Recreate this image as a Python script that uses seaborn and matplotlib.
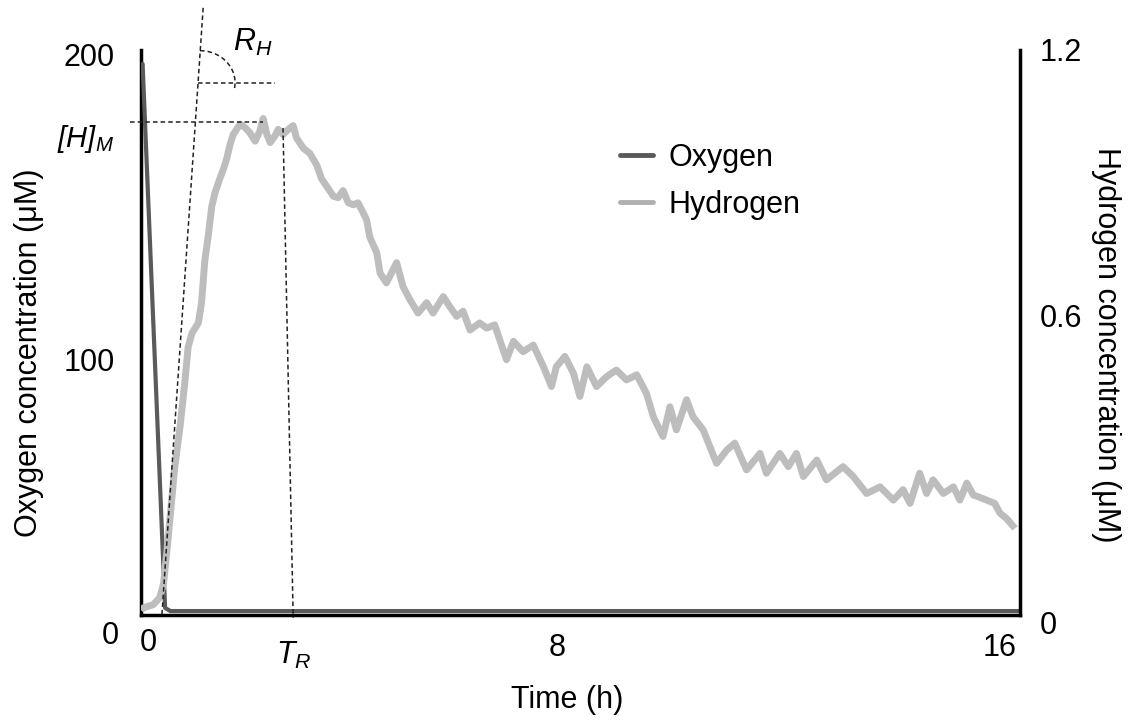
import matplotlib
matplotlib.use("Agg")
import matplotlib.pyplot as plt
import seaborn as sns
import pandas as pd
from matplotlib.patches import Arc
from matplotlib.lines import Line2D
from matplotlib.transforms import ScaledTranslation

# Oxygen trace (uM, left axis)
oxygen_time = [0.0, 0.03, 0.45, 0.55, 16.4]
oxygen_conc = [194, 195, 2.5, 1.4, 1.4]

# Hydrogen trace (uM, right axis)
hydrogen_time = [0.0, 0.04, 0.23, 0.35, 0.42, 0.48, 0.54, 0.63, 0.73, 0.82, 0.88, 0.95,
                 1.07, 1.13, 1.19, 1.26, 1.32, 1.38, 1.47, 1.54, 1.60, 1.66, 1.72, 1.85,
                 1.94, 2.03, 2.13, 2.22, 2.28, 2.35, 2.41, 2.50, 2.56, 2.65, 2.75, 2.84,
                 2.90, 3.03, 3.15, 3.28, 3.37, 3.46, 3.59, 3.68, 3.77, 3.87, 3.96, 4.05,
                 4.15, 4.21, 4.27, 4.40, 4.46, 4.58, 4.77, 4.89, 5.02, 5.17, 5.33, 5.45,
                 5.64, 5.76, 5.89, 6.01, 6.14, 6.32, 6.45, 6.60, 6.82, 6.95, 7.13, 7.32,
                 7.51, 7.66, 7.75, 7.91, 8.07, 8.19, 8.32, 8.50, 8.69, 8.87, 9.06, 9.25,
                 9.43, 9.56, 9.74, 9.87, 9.99, 10.18, 10.30, 10.49, 10.74, 10.93, 11.08,
                 11.30, 11.55, 11.67, 11.92, 12.08, 12.23, 12.36, 12.61, 12.79, 13.10,
                 13.29, 13.54, 13.79, 14.04, 14.22, 14.35, 14.53, 14.66, 14.78, 14.97,
                 15.16, 15.28, 15.41, 15.53, 15.78, 15.93, 16.03, 16.15, 16.31]
hydrogen_conc = [0.010, 0.015, 0.022, 0.037, 0.066, 0.132, 0.204, 0.314, 0.401, 0.496, 0.569, 0.598,
                 0.620, 0.663, 0.751, 0.809, 0.867, 0.896, 0.926, 0.947, 0.969, 0.998, 1.020, 1.042,
                 1.035, 1.024, 1.006, 1.028, 1.054, 1.020, 1.003, 1.017, 1.031, 1.020, 1.031, 1.039,
                 1.013, 0.991, 0.980, 0.955, 0.926, 0.911, 0.889, 0.886, 0.901, 0.875, 0.871, 0.875,
                 0.853, 0.839, 0.802, 0.769, 0.726, 0.705, 0.748, 0.697, 0.669, 0.641, 0.663, 0.641,
                 0.676, 0.655, 0.634, 0.645, 0.605, 0.620, 0.609, 0.616, 0.542, 0.581, 0.559, 0.573,
                 0.527, 0.485, 0.527, 0.549, 0.513, 0.464, 0.527, 0.485, 0.506, 0.520, 0.499, 0.510,
                 0.471, 0.421, 0.379, 0.442, 0.393, 0.457, 0.421, 0.393, 0.322, 0.350, 0.365,
                 0.308, 0.343, 0.301, 0.343, 0.315, 0.343, 0.294, 0.329, 0.287, 0.315,
                 0.294, 0.258, 0.272, 0.244, 0.266, 0.237, 0.301, 0.258, 0.287, 0.258,
                 0.272, 0.244, 0.280, 0.255, 0.244, 0.237, 0.216, 0.205, 0.184]

# annotation values
h_max = 1.047       # [H]_M
t_r = 2.75          # T_R

oxy_df = pd.DataFrame({"Time": oxygen_time, "Oxygen": oxygen_conc})
hyd_df = pd.DataFrame({"Time": hydrogen_time, "Hydrogen": hydrogen_conc})

sns.set_theme(style="white")
plt.rcParams["font.family"] = ["Liberation Sans", "DejaVu Sans"]
# all math labels here are italic, brackets included
plt.rcParams["mathtext.fontset"] = "custom"
plt.rcParams["mathtext.it"] = "Liberation Sans:italic"
plt.rcParams["mathtext.rm"] = "Liberation Sans:italic"
plt.rcParams["text.color"] = "black"
plt.rcParams["axes.labelcolor"] = "black"

oxy_color = "#5a5a5a"
hyd_color = "#bdbdbd"
fs = 22

fig = plt.figure(figsize=(11.37, 7.21), dpi=100)
ax = fig.add_axes([0.124, 0.147, 0.773, 0.784])
ax2 = ax.twinx()

sns.lineplot(data=oxy_df, x="Time", y="Oxygen", ax=ax, color=oxy_color, linewidth=3, zorder=3)
sns.lineplot(data=hyd_df, x="Time", y="Hydrogen", ax=ax2, color=hyd_color, linewidth=5,
             solid_capstyle="butt", zorder=2)

ax.set_xlim(0, 16.4)
ax.set_ylim(0, 200)
ax2.set_ylim(0, 1.2)

for a in (ax, ax2):
    a.spines["top"].set_visible(False)
    for s in a.spines.values():
        s.set_linewidth(2.5)
        s.set_color("black")
ax2.spines["left"].set_visible(False)
ax2.spines["bottom"].set_visible(False)
ax.spines["right"].set_visible(False)

ax.set_xticks([0, 8, 16])
ax.set_xticklabels(["0", "8", "16"])
ax.set_yticks([0, 100, 200])
ax.set_yticklabels(["0", "100", "200"])
ax2.set_yticks([0, 0.6, 1.2])
ax2.set_yticklabels(["0", "0.6", "1.2"])
ax.tick_params(axis="x", length=0, pad=13, labelsize=fs, colors="black")
ax.tick_params(axis="y", length=0, pad=19, labelsize=fs, colors="black")
ax2.tick_params(axis="y", length=0, pad=14, labelsize=fs, colors="black")

ax.set_xlabel("Time (h)", fontsize=fs)
ax.set_ylabel("Oxygen concentration (μM)", fontsize=fs)
ax2.set_ylabel("Hydrogen concentration (μM)", fontsize=fs, rotation=270)
ax.xaxis.label.set_va("center")
ax.yaxis.label.set_va("center")
ax2.yaxis.label.set_va("center")
ax.xaxis.set_label_coords(0.485, -0.150)
ax.yaxis.set_label_coords(-0.127, 0.464)
ax2.yaxis.set_label_coords(1.098, 0.478)


def shift(lbl, dx, dy):
    lbl.set_transform(lbl.get_transform() + ScaledTranslation(dx / 100, dy / 100, fig.dpi_scale_trans))


for lbl, (dx, dy) in zip(ax.get_xticklabels(), [(7, 5), (-13, 0), (1, 0)]):
    shift(lbl, dx, dy)
for lbl, (dx, dy) in zip(ax.get_yticklabels(), [(4, -17), (0, -27), (0, -5)]):
    shift(lbl, dx, dy)
for lbl, (dx, dy) in zip(ax2.get_yticklabels(), [(0, -7), (0, 17), (0, 0)]):
    shift(lbl, dx, dy)

# dashed construction lines (hydrogen units)
dash = dict(color="#222222", linewidth=1.1, linestyle=(0, (3, 2)), clip_on=False, zorder=5)
ax2.plot([-0.21, 2.28], [h_max, h_max], **dash)
ax2.plot([2.65, 2.84], [1.034, -0.006], **dash)
ax2.plot([1.16, 0.39], [1.289, 0.0], **dash)
ax2.plot([1.06, 2.50], [1.130, 1.130], **dash)
# angles given in data space (stretched by Arc); about -8..95 deg on screen
ax2.add_patch(Arc((1.10, 1.13), 1.31, 0.136, theta1=-1, theta2=110, color="#222222",
                  linewidth=1.1, linestyle=(0, (3, 2)), clip_on=False, zorder=5))

ax2.text(1.72, 1.215, r"$R_H$", fontsize=fs, ha="left", va="center", clip_on=False)
ax2.text(-0.5, 1.01, r"$[H]_M$", fontsize=21, ha="right", va="center", clip_on=False)
ax2.text(2.52, -0.085, r"$T_R$", fontsize=fs, ha="left", va="center", clip_on=False)

handles = [Line2D([], [], color=oxy_color, linewidth=3.5),
           Line2D([], [], color="#b0b0b0", linewidth=3.5)]
ax2.legend(handles, ["Oxygen", "Hydrogen"], loc="upper left", bbox_to_anchor=(0.545, 0.802),
           bbox_transform=fig.transFigure, frameon=False, fontsize=fs, handlelength=1.1,
           handletextpad=0.5, labelspacing=0.55, borderpad=0, borderaxespad=0)

fig.savefig("out.png", dpi=100)
